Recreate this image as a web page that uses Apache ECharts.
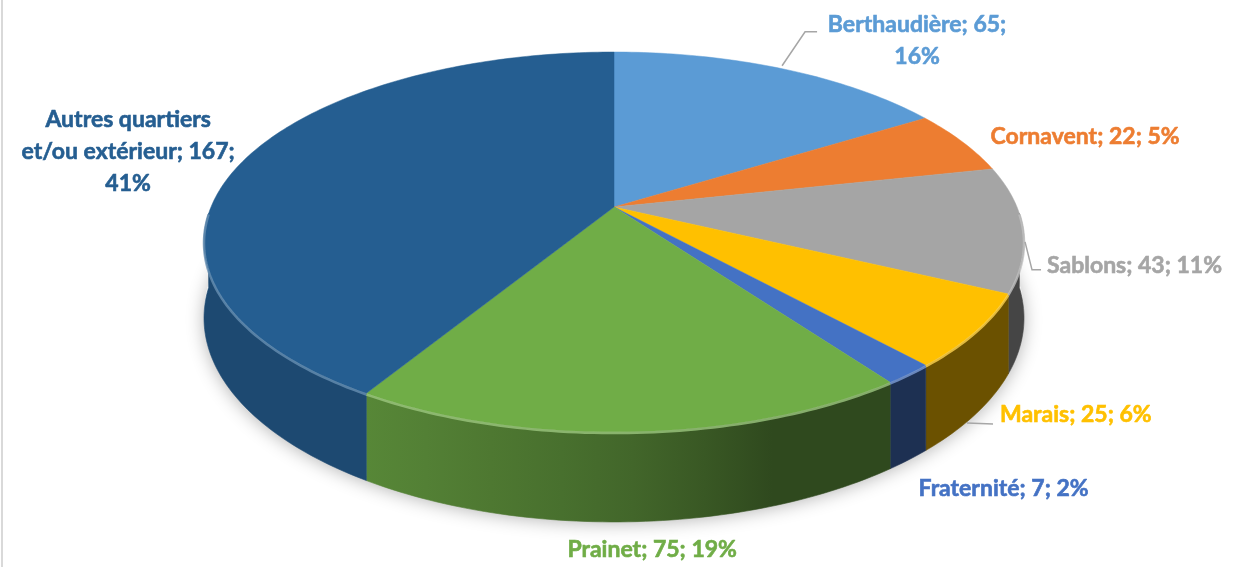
<!DOCTYPE html>
<html>
<head>
<meta charset="utf-8">
<script src="https://cdn.jsdelivr.net/npm/echarts/dist/echarts.min.js"></script>
<style>
  html, body { margin: 0; padding: 0; background: #fff; }
  #chart { width: 1246px; height: 567px; }
</style>
</head>
<body>
<div id="chart"></div>
<script>
// chart data
const categories = ['Berthaudière', 'Cornavent', 'Sablons', 'Marais', 'Fraternité', 'Prainet', 'Autres quartiers et/ou extérieur'];
const values = [65, 22, 43, 25, 7, 75, 167];
const colors = ['#5B9BD5', '#ED7D31', '#A5A5A5', '#FFC000', '#4472C4', '#70AD47', '#255E91'];

// label layout: offset from the rim point at mid angle, line breaks after word n, leader line
const labelLayout = [
  { dx: 135, dy: -28, align: 'center', br: [2], leader: [[0, -3], [23, -37], [35, -37]] },
  { dx: 28, dy: -5, align: 'left', br: [] },
  { dx: 24, dy: 37, align: 'left', br: [], leader: [[2, 13], [9, 41], [18, 41]] },
  { dx: 24, dy: 83, align: 'left', br: [], leader: [[-9, 92], [17, 93]] },
  { dx: 10, dy: 115, align: 'left', br: [] },
  { dx: 19, dy: 118, align: 'center', br: [] },
  { dx: -116, dy: -8, align: 'center', br: [2, 5] }
];

// 3D view of the pie (perspective)
const CX = 614, CY = 207, A = 403, B = 183.5, K = 0.184, DEPTH = 73.5;
const total = values.reduce((a, b) => a + b, 0);
const starts = [];
values.reduce((acc, v, i) => { starts[i] = acc; return acc + v; }, 0);

function proj(deg, drop) {
  const t = deg * Math.PI / 180;
  const u = Math.sin(t), v = Math.cos(t);
  const w = 1 + K * v;
  return [CX + A * u / w, CY - B * v / w + (drop || 0) / w];
}

function shade(hex, f) {
  const n = parseInt(hex.slice(1), 16);
  const r = Math.round(((n >> 16) & 255) * f);
  const g = Math.round(((n >> 8) & 255) * f);
  const b = Math.round((n & 255) * f);
  return 'rgb(' + r + ',' + g + ',' + b + ')';
}
function lighten(hex, f) {
  const n = parseInt(hex.slice(1), 16);
  const c = [(n >> 16) & 255, (n >> 8) & 255, n & 255].map(x => Math.round(x + (255 - x) * f));
  return 'rgb(' + c.join(',') + ')';
}
function sideLight(deg) {
  if (deg <= 165) return 0.42;
  if (deg >= 211) return 0.78;
  const t = (deg - 165) / 46;
  return 0.42 + 0.36 * Math.pow(t, 0.6);
}

function renderItem(params, api) {
  const i = params.dataIndex;
  const v = api.value(0);
  const a0 = starts[i] / total * 360;
  const a1 = a0 + v / total * 360;
  const color = colors[i];
  const children = [];

  // side wall, front half only, one shape with a horizontal gradient
  const s0 = Math.max(a0, 92), s1 = Math.min(a1, 268);
  if (s1 > s0) {
    const top = [], bot = [], samples = [];
    for (let a = s0; a < s1; a += 1) { top.push(proj(a)); bot.push(proj(a, DEPTH)); }
    top.push(proj(s1)); bot.push(proj(s1, DEPTH));
    const xs = top.map(p => p[0]);
    const xmin = Math.min.apply(null, xs) - 1, xmax = Math.max.apply(null, xs) + 1;
    for (let k = 0; k <= 8; k++) {
      const a = s0 + (s1 - s0) * k / 8;
      const x = proj(a)[0];
      const off = Math.min(1, Math.max(0, (x - xmin) / (xmax - xmin)));
      samples.push({ offset: off, color: shade(color, sideLight(a)) });
    }
    samples.sort((p, q) => p.offset - q.offset);
    const grad = new echarts.graphic.LinearGradient(xmin, 0, xmax, 0, samples, true);
    children.push({
      type: 'polygon', z2: 1,
      shape: { points: top.concat(bot.reverse()) },
      style: { fill: grad, stroke: grad, lineWidth: 0.6 }
    });
  }

  // top face
  const pts = [[CX, CY]];
  for (let a = a0; a < a1; a += 1) pts.push(proj(a));
  pts.push(proj(a1));
  children.push({
    type: 'polygon', z2: 10,
    shape: { points: pts },
    style: { fill: color, stroke: color, lineWidth: 0.5 }
  });

  // bevel highlight on the front rim
  if (s1 > s0) {
    const rim = [];
    for (let a = s0; a < s1; a += 1) rim.push(proj(a, 1));
    rim.push(proj(s1, 1));
    children.push({
      type: 'polyline', z2: 11,
      shape: { points: rim },
      style: { stroke: lighten(color, 0.3), lineWidth: 2.5, opacity: 0.8, fill: null }
    });
  }

  // label
  const lay = labelLayout[i];
  const anchor = proj((a0 + a1) / 2);
  const pct = Math.round(v / total * 100);
  const words = (categories[i] + '; ' + v + '; ' + pct + '%').split(' ');
  let text = '';
  words.forEach((w, k) => {
    text += w;
    if (k < words.length - 1) text += lay.br.indexOf(k + 1) >= 0 ? '\n' : ' ';
  });
  children.push({
    type: 'text', z2: 20,
    style: {
      text: text,
      x: anchor[0] + lay.dx, y: anchor[1] + lay.dy,
      fill: color,
      stroke: color, lineWidth: 0.6,
      fontFamily: 'Lato', fontWeight: 'bold', fontSize: 23,
      lineHeight: 32,
      align: lay.align, verticalAlign: 'middle'
    }
  });
  if (lay.leader) {
    children.push({
      type: 'polyline', z2: 20,
      shape: { points: lay.leader.map(p => [anchor[0] + p[0], anchor[1] + p[1]]) },
      style: { stroke: '#A6A6A6', lineWidth: 1.5, fill: null }
    });
  }
  return { type: 'group', children: children };
}

// soft shadow under the pie
const shadowPts = [];
for (let a = 0; a < 360; a += 2) shadowPts.push(proj(a, DEPTH - 4));

const chart = echarts.init(document.getElementById('chart'));
chart.setOption({
  backgroundColor: '#fff',
  animation: false,
  graphic: [
    { type: 'rect', z: 0, shape: { x: 1, y: 0, width: 2, height: 567 }, style: { fill: '#D9D9D9' } },
    {
      type: 'polygon', z: 0,
      shape: { points: shadowPts },
      style: { fill: '#fff', shadowBlur: 18, shadowColor: 'rgba(0,0,0,0.3)', shadowOffsetY: 6 }
    }
  ],
  series: [{
    type: 'custom',
    coordinateSystem: 'none',
    z: 2,
    data: values.map(v => [v]),
    renderItem: renderItem
  }]
});
window.addEventListener('resize', chart.resize);
</script>
</body>
</html>
